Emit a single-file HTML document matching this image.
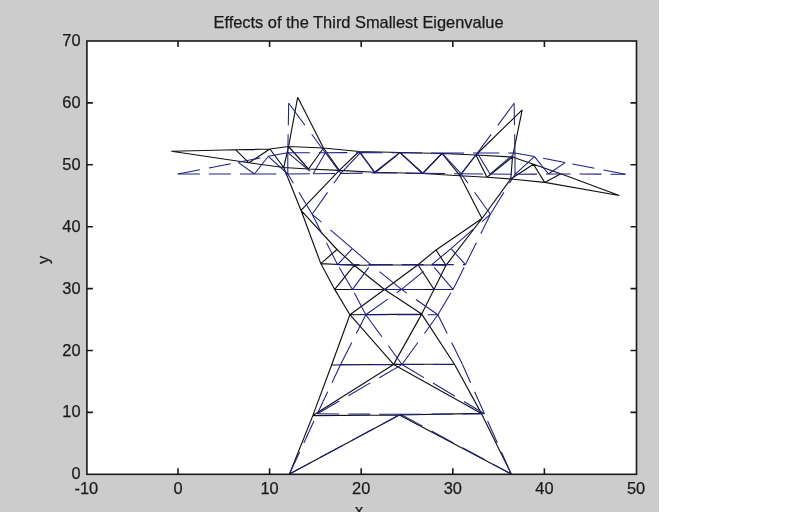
<!DOCTYPE html>
<html><head><meta charset="utf-8"><style>
html,body{margin:0;padding:0;background:#fff;}
body{width:811px;height:512px;overflow:hidden;position:relative;}
svg{position:absolute;left:0;top:0;}
text{font-family:"Liberation Sans",sans-serif;font-size:16.4px;fill:#1a1a1a;stroke:#1a1a1a;stroke-width:0.25px;}
svg{will-change:transform;}
</style></head><body>
<svg width="811" height="512" viewBox="0 0 811 512">
<rect x="0" y="0" width="659" height="512" fill="#cccccc"/>
<rect x="86.9" y="41.0" width="549.6" height="433.3" fill="#ffffff"/>
<path d="M289.5 474.0L312.8 415.6 M312.8 415.6L331.6 365.0 M331.6 365.0L349.9 314.7 M511.2 474.0L481.4 413.4 M481.4 413.4L454.3 364.0 M454.3 364.0L421.7 314.1 M289.5 474.0L399.4 415.0 M399.4 415.0L511.2 474.0 M312.8 415.6L399.4 415.0 M399.4 415.0L481.4 413.4 M312.8 415.6L393.6 364.4 M393.6 364.4L481.4 413.4 M331.6 365.0L393.6 364.4 M393.6 364.4L454.3 364.0 M349.9 314.7L393.6 364.4 M393.6 364.4L421.7 314.1 M349.9 314.7L421.7 314.1 M349.9 314.7L334.7 289.4 M334.7 289.4L320.8 263.6 M320.8 263.6L301.0 210.3 M301.0 210.3L283.7 167.5 M421.7 314.1L434.0 289.4 M434.0 289.4L446.0 265.3 M446.0 265.3L482.0 218.5 M482.0 218.5L510.8 179.0 M334.7 289.4L384.5 289.5 M384.5 289.5L434.0 289.4 M320.8 263.6L354.2 265.3 M354.2 265.3L418.0 264.8 M418.0 264.8L446.0 265.3 M349.9 314.7L384.5 289.5 M421.7 314.1L384.5 289.5 M384.5 289.5L354.2 265.3 M384.5 289.5L418.0 264.8 M354.2 265.3L337.0 249.5 M337.0 249.5L301.0 210.3 M418.0 264.8L436.0 250.0 M436.0 250.0L482.0 218.5 M320.8 263.6L337.0 249.5 M446.0 265.3L436.0 250.0 M334.7 289.4L354.2 265.3 M434.0 289.4L418.0 264.8 M301.0 210.3L339.3 170.4 M482.0 218.5L460.0 175.7 M288.6 146.5L323.5 148.0 M323.5 148.0L359.0 151.5 M359.0 151.5L400.0 152.5 M400.0 152.5L442.0 153.5 M442.0 153.5L475.9 155.0 M475.9 155.0L512.5 157.0 M283.7 167.5L308.5 169.0 M308.5 169.0L339.3 170.4 M339.3 170.4L374.8 172.3 M374.8 172.3L422.5 173.5 M422.5 173.5L460.0 175.7 M460.0 175.7L487.0 177.3 M487.0 177.3L510.8 179.0 M288.6 146.5L283.7 167.5 M512.5 157.0L510.8 179.0 M288.6 146.5L308.5 169.0 M308.5 169.0L323.5 148.0 M323.5 148.0L339.3 170.4 M339.3 170.4L359.0 151.5 M359.0 151.5L374.8 172.3 M374.8 172.3L400.0 152.5 M400.0 152.5L422.5 173.5 M422.5 173.5L442.0 153.5 M442.0 153.5L460.0 175.7 M460.0 175.7L475.9 155.0 M475.9 155.0L487.0 177.3 M487.0 177.3L512.5 157.0 M297.7 97.2L288.6 146.5 M297.7 97.2L323.5 148.0 M522.2 109.9L512.5 157.0 M522.2 109.9L475.9 155.0 M171.3 151.3L235.8 149.8 M235.8 149.8L269.9 149.0 M269.9 149.0L288.6 146.5 M171.3 151.3L249.0 162.8 M249.0 162.8L283.7 167.5 M235.8 149.8L249.0 162.8 M249.0 162.8L269.9 149.0 M269.9 149.0L283.7 167.5 M619.3 195.5L560.8 173.8 M560.8 173.8L533.4 164.2 M533.4 164.2L512.5 157.0 M510.8 179.0L544.7 182.4 M544.7 182.4L619.3 195.5 M560.8 173.8L544.7 182.4 M544.7 182.4L533.4 164.2 M533.4 164.2L510.8 179.0" stroke="#111111" stroke-width="1.15" fill="none"/>
<g stroke="#1e1e82" stroke-width="1.05" fill="none"><line x1="289.5" y1="474" x2="317.3" y2="413.8" stroke-dasharray="24.2 9.9"/><line x1="317.3" y1="413.8" x2="340.6" y2="364.5" stroke-dasharray="24.3 10.0"/><line x1="340.6" y1="364.5" x2="365.8" y2="314.8" stroke-dasharray="24.7 10.1"/><line x1="511.25" y1="474" x2="484.4" y2="413.8" stroke-dasharray="24.1 9.9"/><line x1="484.4" y1="413.8" x2="462.5" y2="364.5" stroke-dasharray="24.1 9.8"/><line x1="462.5" y1="364.5" x2="437.9" y2="314.8" stroke-dasharray="24.5 10.0"/><line x1="289.5" y1="474" x2="400.5" y2="414.3" stroke-dasharray="25.0 10.2"/><line x1="400.5" y1="414.3" x2="511.25" y2="474" stroke-dasharray="25.0 10.2"/><line x1="317.3" y1="413.8" x2="400.5" y2="414.3" stroke-dasharray="22.0 9.0"/><line x1="400.5" y1="414.3" x2="484.4" y2="413.8" stroke-dasharray="22.0 9.0"/><line x1="317.3" y1="413.8" x2="402" y2="364.5" stroke-dasharray="25.5 10.4"/><line x1="402" y1="364.5" x2="484.4" y2="413.8" stroke-dasharray="25.6 10.5"/><line x1="340.6" y1="364.5" x2="402" y2="364.5" stroke-dasharray="22.0 9.0"/><line x1="402" y1="364.5" x2="462.5" y2="364.5" stroke-dasharray="22.0 9.0"/><line x1="365.8" y1="314.8" x2="402" y2="364.5" stroke-dasharray="27.2 11.1"/><line x1="402" y1="364.5" x2="437.9" y2="314.8" stroke-dasharray="27.1 11.1"/><line x1="365.8" y1="314.8" x2="437.9" y2="314.8" stroke-dasharray="22.0 9.0"/><line x1="365.8" y1="314.8" x2="352.5" y2="289.4" stroke-dasharray="24.8 10.2"/><line x1="352.5" y1="289.4" x2="337.5" y2="264.6" stroke-dasharray="25.7 10.5"/><line x1="337.5" y1="264.6" x2="312.2" y2="214.3" stroke-dasharray="24.6 10.1"/><line x1="312.2" y1="214.3" x2="287.8" y2="174.0" stroke-dasharray="25.7 10.5"/><line x1="437.9" y1="314.8" x2="453" y2="289.4" stroke-dasharray="25.6 10.5"/><line x1="453" y1="289.4" x2="465.5" y2="264.6" stroke-dasharray="24.6 10.1"/><line x1="465.5" y1="264.6" x2="490.4" y2="214.3" stroke-dasharray="24.5 10.0"/><line x1="490.4" y1="214.3" x2="515.0" y2="174.3" stroke-dasharray="25.8 10.6"/><line x1="352.5" y1="289.4" x2="401.5" y2="289.4" stroke-dasharray="22.0 9.0"/><line x1="401.5" y1="289.4" x2="453" y2="289.4" stroke-dasharray="22.0 9.0"/><line x1="337.5" y1="264.6" x2="370.8" y2="264.6" stroke-dasharray="22.0 9.0"/><line x1="370.8" y1="264.6" x2="431.8" y2="264.6" stroke-dasharray="22.0 9.0"/><line x1="431.8" y1="264.6" x2="465.5" y2="264.6" stroke-dasharray="22.0 9.0"/><line x1="365.8" y1="314.8" x2="401.5" y2="289.4" stroke-dasharray="27.0 11.0"/><line x1="437.9" y1="314.8" x2="401.5" y2="289.4" stroke-dasharray="26.8 11.0"/><line x1="401.5" y1="289.4" x2="370.8" y2="264.6" stroke-dasharray="28.3 11.6"/><line x1="401.5" y1="289.4" x2="431.8" y2="264.6" stroke-dasharray="28.4 11.6"/><line x1="370.8" y1="264.6" x2="352.4" y2="248.6" stroke-dasharray="29.2 11.9"/><line x1="352.4" y1="248.6" x2="312.2" y2="214.3" stroke-dasharray="28.9 11.8"/><line x1="431.8" y1="264.6" x2="451" y2="248.6" stroke-dasharray="28.6 11.7"/><line x1="451" y1="248.6" x2="490.4" y2="214.3" stroke-dasharray="29.2 11.9"/><line x1="337.5" y1="264.6" x2="352.4" y2="248.6" stroke-dasharray="30.1 12.3"/><line x1="465.5" y1="264.6" x2="451" y2="248.6" stroke-dasharray="29.7 12.1"/><line x1="352.5" y1="289.4" x2="370.8" y2="264.6" stroke-dasharray="27.3 11.2"/><line x1="453" y1="289.4" x2="431.8" y2="264.6" stroke-dasharray="28.9 11.8"/><line x1="312.2" y1="214.3" x2="340.8" y2="173.4" stroke-dasharray="26.8 11.0"/><line x1="490.4" y1="214.3" x2="461.2" y2="173.8" stroke-dasharray="27.1 11.1"/><line x1="287.8" y1="152.7" x2="325.3" y2="152.7" stroke-dasharray="22.0 9.0"/><line x1="325.3" y1="152.7" x2="360.5" y2="152.6" stroke-dasharray="22.0 9.0"/><line x1="360.5" y1="152.6" x2="400.1" y2="152.8" stroke-dasharray="22.0 9.0"/><line x1="400.1" y1="152.8" x2="442.0" y2="153.1" stroke-dasharray="22.0 9.0"/><line x1="442.0" y1="153.1" x2="477.3" y2="153.0" stroke-dasharray="22.0 9.0"/><line x1="477.3" y1="153.0" x2="515.0" y2="153.1" stroke-dasharray="22.0 9.0"/><line x1="287.8" y1="174.0" x2="313.2" y2="173.8" stroke-dasharray="22.0 9.0"/><line x1="313.2" y1="173.8" x2="340.8" y2="173.4" stroke-dasharray="22.0 9.0"/><line x1="340.8" y1="173.4" x2="374.8" y2="173.0" stroke-dasharray="22.0 9.0"/><line x1="374.8" y1="173.0" x2="423.1" y2="173.2" stroke-dasharray="22.0 9.0"/><line x1="423.1" y1="173.2" x2="461.2" y2="173.8" stroke-dasharray="22.0 9.0"/><line x1="461.2" y1="173.8" x2="490.0" y2="174.1" stroke-dasharray="22.0 9.0"/><line x1="490.0" y1="174.1" x2="515.0" y2="174.3" stroke-dasharray="22.0 9.0"/><line x1="287.8" y1="152.7" x2="287.8" y2="174.0" stroke-dasharray="22.0 9.0"/><line x1="515.0" y1="153.1" x2="515.0" y2="174.3" stroke-dasharray="22.0 9.0"/><line x1="287.8" y1="152.7" x2="313.2" y2="173.8" stroke-dasharray="28.6 11.7"/><line x1="313.2" y1="173.8" x2="325.3" y2="152.7" stroke-dasharray="25.4 10.4"/><line x1="325.3" y1="152.7" x2="340.8" y2="173.4" stroke-dasharray="27.5 11.2"/><line x1="340.8" y1="173.4" x2="360.5" y2="152.6" stroke-dasharray="30.3 12.4"/><line x1="360.5" y1="152.6" x2="374.8" y2="173.0" stroke-dasharray="26.9 11.0"/><line x1="374.8" y1="173.0" x2="400.1" y2="152.8" stroke-dasharray="28.2 11.5"/><line x1="400.1" y1="152.8" x2="423.1" y2="173.2" stroke-dasharray="29.4 12.0"/><line x1="423.1" y1="173.2" x2="442.0" y2="153.1" stroke-dasharray="30.2 12.4"/><line x1="442.0" y1="153.1" x2="461.2" y2="173.8" stroke-dasharray="30.0 12.3"/><line x1="461.2" y1="173.8" x2="477.3" y2="153.0" stroke-dasharray="27.8 11.4"/><line x1="477.3" y1="153.0" x2="490.0" y2="174.1" stroke-dasharray="25.7 10.5"/><line x1="490.0" y1="174.1" x2="515.0" y2="153.1" stroke-dasharray="28.7 11.8"/><line x1="288.7" y1="103.2" x2="287.8" y2="152.7" stroke-dasharray="22.0 9.0"/><line x1="288.7" y1="103.2" x2="325.3" y2="152.7" stroke-dasharray="27.4 11.2"/><line x1="514.1" y1="103.3" x2="515.0" y2="153.1" stroke-dasharray="22.0 9.0"/><line x1="514.1" y1="103.3" x2="477.3" y2="153.0" stroke-dasharray="27.4 11.2"/><line x1="177.9" y1="174.0" x2="238.3" y2="162.3" stroke-dasharray="22.4 9.2"/><line x1="238.3" y1="162.3" x2="268.3" y2="156.3" stroke-dasharray="22.4 9.2"/><line x1="268.3" y1="156.3" x2="287.8" y2="152.7" stroke-dasharray="22.4 9.2"/><line x1="177.9" y1="174.0" x2="254.4" y2="174.0" stroke-dasharray="22.0 9.0"/><line x1="254.4" y1="174.0" x2="287.8" y2="174.0" stroke-dasharray="22.0 9.0"/><line x1="238.3" y1="162.3" x2="254.4" y2="174.0" stroke-dasharray="27.2 11.1"/><line x1="254.4" y1="174.0" x2="268.3" y2="156.3" stroke-dasharray="28.0 11.4"/><line x1="268.3" y1="156.3" x2="287.8" y2="174.0" stroke-dasharray="29.7 12.2"/><line x1="625.5" y1="174.2" x2="565.1" y2="162.6" stroke-dasharray="22.4 9.2"/><line x1="565.1" y1="162.6" x2="534.5" y2="156.6" stroke-dasharray="22.4 9.2"/><line x1="534.5" y1="156.6" x2="515.0" y2="153.1" stroke-dasharray="22.4 9.1"/><line x1="515.0" y1="174.3" x2="548.5" y2="174.0" stroke-dasharray="22.0 9.0"/><line x1="548.5" y1="174.0" x2="625.5" y2="174.2" stroke-dasharray="22.0 9.0"/><line x1="565.1" y1="162.6" x2="548.5" y2="174.0" stroke-dasharray="26.7 10.9"/><line x1="548.5" y1="174.0" x2="534.5" y2="156.6" stroke-dasharray="28.2 11.6"/><line x1="534.5" y1="156.6" x2="515.0" y2="174.3" stroke-dasharray="29.7 12.2"/></g>
<rect x="86.9" y="41.0" width="549.6" height="433.3" fill="none" stroke="#1a1a1a" stroke-width="1.6"/>
<path d="M178.0 474.3V468.3M178.0 41.0V47.0M269.6 474.3V468.3M269.6 41.0V47.0M361.2 474.3V468.3M361.2 41.0V47.0M452.8 474.3V468.3M452.8 41.0V47.0M544.4 474.3V468.3M544.4 41.0V47.0M86.9 412.4H92.9M636.5 412.4H630.5M86.9 350.5H92.9M636.5 350.5H630.5M86.9 288.6H92.9M636.5 288.6H630.5M86.9 226.7H92.9M636.5 226.7H630.5M86.9 164.8H92.9M636.5 164.8H630.5M86.9 102.9H92.9M636.5 102.9H630.5" stroke="#1a1a1a" stroke-width="1.6" fill="none"/>
<text x="86.4" y="494.3" text-anchor="middle">-10</text><text x="178.0" y="494.3" text-anchor="middle">0</text><text x="269.6" y="494.3" text-anchor="middle">10</text><text x="361.2" y="494.3" text-anchor="middle">20</text><text x="452.8" y="494.3" text-anchor="middle">30</text><text x="544.4" y="494.3" text-anchor="middle">40</text><text x="636.0" y="494.3" text-anchor="middle">50</text><text x="80.6" y="479.3" text-anchor="end">0</text><text x="80.6" y="417.4" text-anchor="end">10</text><text x="80.6" y="355.5" text-anchor="end">20</text><text x="80.6" y="293.6" text-anchor="end">30</text><text x="80.6" y="231.7" text-anchor="end">40</text><text x="80.6" y="169.8" text-anchor="end">50</text><text x="80.6" y="107.9" text-anchor="end">60</text><text x="80.6" y="46.0" text-anchor="end">70</text>
<text x="358.5" y="27.7" text-anchor="middle">Effects of the Third Smallest Eigenvalue</text>
<text x="359" y="516" text-anchor="middle">x</text>
<text transform="translate(49,260) rotate(-90)" text-anchor="middle">y</text>
</svg>
</body></html>
